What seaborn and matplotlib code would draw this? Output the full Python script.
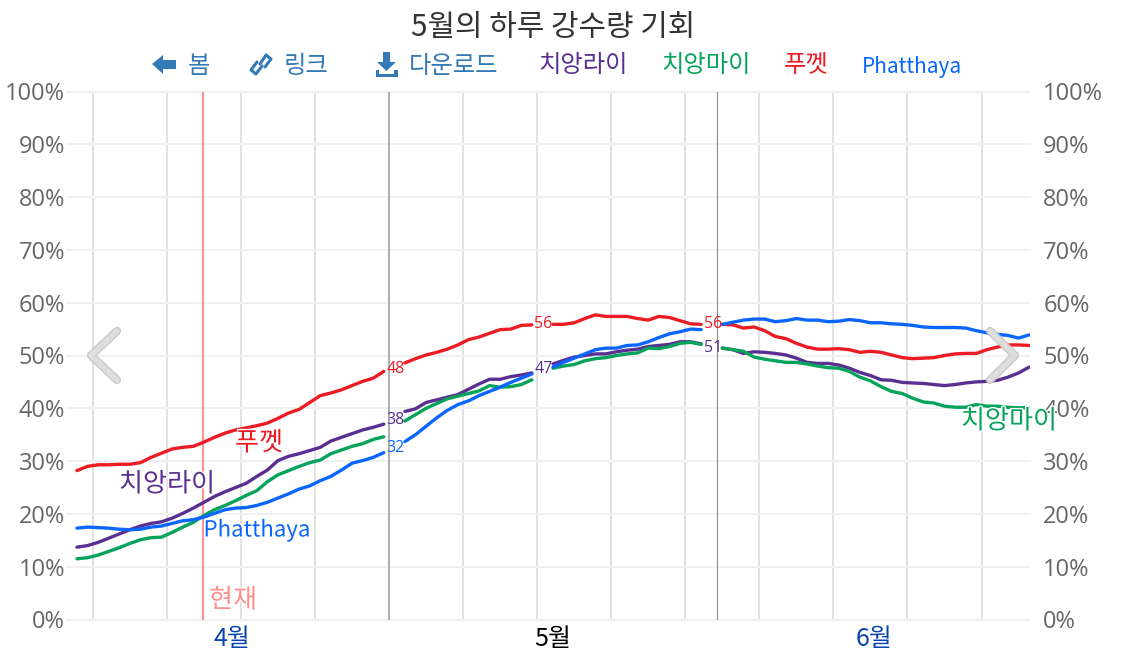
import numpy as np
import pandas as pd
import matplotlib.pyplot as plt
import matplotlib.patheffects as pe
from matplotlib.patches import Polygon
from matplotlib.transforms import Affine2D
import seaborn as sns

KOR = ['Noto Sans CJK KR', 'DejaVu Sans']

# one value per day from 1 April (index 0) to 30 June; None where a label interrupts the line
chiang_rai = [13.7, 14.0, 14.6, 15.4, 16.2, 17.0, 17.7, 18.2, 18.5, 19.2, 20.1, 21.1, 22.2, 23.3, 24.2,
              25.0, 25.8, 27.1, 28.3, 30.1, 30.9, 31.4, 32.0, 32.6, 33.8, 34.5, 35.2, 35.9, 36.4, 37.0,
              None,
              39.4, 39.9, 41.1, 41.6, 42.1, 42.6, 43.6, 44.6, 45.5, 45.5, 46.0, 46.3, 46.7,
              None,
              48.4, 49.1, 49.7, 50.0, 50.3, 50.3, 50.7, 51.0, 51.2, 51.7, 51.9, 52.1, 52.6, 52.6, 52.2,
              None,
              51.4, 51.1, 50.4, 50.7, 50.6, 50.4, 50.1, 49.5, 48.7, 48.5, 48.5, 48.2, 47.6, 46.8, 46.2,
              45.4, 45.3, 44.9, 44.8, 44.7, 44.5, 44.3, 44.5, 44.8, 45.0, 45.1, 45.3, 45.9, 46.7, 47.8]
chiang_mai = [11.5, 11.7, 12.2, 12.9, 13.6, 14.4, 15.1, 15.5, 15.6, 16.5, 17.5, 18.4, 19.7, 20.8, 21.6,
              22.5, 23.5, 24.4, 26.1, 27.4, 28.2, 29.0, 29.7, 30.2, 31.4, 32.1, 32.8, 33.3, 34.1, 34.6,
              None,
              37.6, 38.8, 40.0, 40.9, 41.8, 42.3, 42.8, 43.3, 44.3, 44.0, 44.1, 44.5, 45.4,
              None,
              47.6, 48.0, 48.3, 49.0, 49.4, 49.6, 50.0, 50.3, 50.5, 51.4, 51.3, 51.7, 52.3, 52.5, 52.1,
              None,
              51.4, 51.1, 50.8, 49.7, 49.3, 49.0, 48.7, 48.7, 48.4, 48.0, 47.7, 47.6, 47.0, 45.9, 45.2,
              44.1, 43.2, 42.8, 41.9, 41.2, 41.0, 40.4, 40.2, 40.2, 40.7, 40.4, 40.4, 40.2, 40.1, 40.1]
phuket = [28.2, 29.0, 29.3, 29.3, 29.4, 29.4, 29.7, 30.7, 31.5, 32.3, 32.6, 32.8, 33.6, 34.5, 35.3,
          35.9, 36.3, 36.7, 37.2, 38.1, 39.1, 39.8, 41.1, 42.4, 42.9, 43.5, 44.3, 45.1, 45.7, 47.0,
          None,
          48.6, 49.4, 50.1, 50.6, 51.2, 52.0, 53.0, 53.5, 54.2, 54.9, 55.0, 55.7, 55.8,
          None,
          55.9, 55.9, 56.2, 57.0, 57.7, 57.4, 57.4, 57.4, 57.0, 56.7, 57.4, 57.2, 56.6, 56.0, 55.9,
          None,
          55.9, 55.8, 55.2, 55.4, 54.7, 53.6, 53.2, 52.3, 51.6, 51.2, 51.2, 51.3, 51.1, 50.6, 50.8,
          50.6, 50.1, 49.6, 49.4, 49.5, 49.6, 50.0, 50.3, 50.4, 50.4, 51.1, 51.6, 52.0, 52.0, 51.9]
phatthaya = [17.3, 17.5, 17.4, 17.3, 17.1, 17.0, 17.1, 17.5, 17.7, 18.2, 18.7, 18.9, 19.4, 20.1, 20.8,
             21.1, 21.2, 21.6, 22.2, 23.0, 23.8, 24.7, 25.3, 26.3, 27.1, 28.3, 29.6, 30.1, 30.7, 31.6,
             None,
             33.7, 35.0, 36.6, 38.2, 39.6, 40.7, 41.4, 42.4, 43.2, 44.0, 44.9, 45.7, 46.5,
             None,
             47.8, 48.7, 49.5, 50.3, 51.1, 51.4, 51.4, 51.9, 52.0, 52.6, 53.4, 54.1, 54.5, 55.0, 54.9,
             None,
             55.9, 56.3, 56.7, 56.9, 56.9, 56.4, 56.6, 57.0, 56.7, 56.7, 56.4, 56.5, 56.8, 56.6, 56.2,
             56.2, 56.0, 55.9, 55.7, 55.4, 55.3, 55.3, 55.3, 55.2, 54.7, 54.3, 54.0, 53.8, 53.3, 53.9]

cities = ['치앙라이', '치앙마이', '푸껫', 'Phatthaya']
city_colors = ['#5b2f91', '#06a35a', '#ed1c24', '#0a66ff']
y_ticks = [0, 10, 20, 30, 40, 50, 60, 70, 80, 90, 100]
y_labels = ['0%', '10%', '20%', '30%', '40%', '50%', '60%', '70%', '80%', '90%', '100%']
month_labels = ['4월', '5월', '6월']
month_colors = ['#0645ad', '#000000', '#0645ad']
month_pos = [14.66, 45, 75.3]
# inline labels: day index, value, text, color index
label_days = [30, 30, 30, 44, 44, 60, 60]
label_vals = [47.5, 37.8, 32.5, 56.0, 47.5, 56.0, 51.4]
label_text = ['48', '38', '32', '56', '47', '56', '51']
label_city = [2, 0, 3, 2, 0, 2, 0]

frames = []
for name, vals in zip(cities, [chiang_rai, chiang_mai, phuket, phatthaya]):
    v = pd.Series(vals, dtype=float)
    frames.append(pd.DataFrame({'day': np.arange(len(v)), 'rain': v, 'city': name,
                                'part': v.isna().cumsum()}))
df = pd.concat(frames).dropna()

sns.set_theme(style='white')
plt.rcParams['font.family'] = KOR

W, H = 1135, 652
fig = plt.figure(figsize=(W / 100, H / 100), dpi=100)
ax = fig.add_axes([67 / W, 1 - 619.5 / H, 963 / W, 528 / H])
px = Affine2D().scale(1, -1).translate(0, H)  # overlay items are placed in screen pixels

sns.lineplot(data=df, x='day', y='rain', hue='city', hue_order=cities, palette=city_colors,
             units='part', estimator=None, linewidth=2.4, legend=False, ax=ax, zorder=3,
             solid_joinstyle='round')

ax.set_xlim(-0.94, 90.08)
ax.set_ylim(0, 100)
ax.set_xlabel('')
ax.set_ylabel('')
sns.despine(ax=ax, left=True, bottom=True)

ax.set_xticks(np.arange(1.5, 90, 7))
ax.set_xticklabels([])
ax.tick_params(axis='x', which='major', length=5.8, width=1.1, color='#d8d8d8')
ax.grid(True, axis='x', color='#d8d8d8', linewidth=1.1, zorder=1)
ax.set_xticks(month_pos, minor=True)
ax.set_xticklabels(month_labels, minor=True, fontsize=18)
ax.tick_params(axis='x', which='minor', length=0, pad=5)
for lab, c in zip(ax.get_xticklabels(minor=True), month_colors):
    lab.set_color(c)

ax.set_yticks(y_ticks)
ax.set_yticklabels(y_labels, fontsize=17, color='#666666', family=['Open Sans'])
ax.tick_params(axis='y', length=0, pad=1.5)
ax.grid(True, axis='y', color='#f0f0f0', linewidth=1.5, zorder=1)
for gl in ax.get_ygridlines():
    gl.set_clip_on(False)

ax2 = ax.twinx()
ax2.set_ylim(0, 100)
ax2.set_yticks(y_ticks)
ax2.set_yticklabels(y_labels, fontsize=17, color='#666666', family=['Open Sans'])
ax2.tick_params(axis='y', length=0, pad=9.5)
ax2.grid(False)
sns.despine(ax=ax2, left=True, bottom=True, right=True)

# today and the month boundaries
ax.axvline(11.92, color='#ff8f8f', linewidth=1.4, zorder=2)
ax.axvline(29.5, color='#aaaaaa', linewidth=1.3, zorder=2)
ax.axvline(60.5, color='#888888', linewidth=0.8, zorder=2)

for d, v, t, c in zip(label_days, label_vals, label_text, label_city):
    ax.text(d + 0.1, v, t, color=city_colors[c], fontsize=11.5, ha='center', va='center',
            family=['Open Sans'], zorder=4)

halo = [pe.withStroke(linewidth=2, foreground='white')]
def put(x, y, s, color, size=18.8, ha='center', **kw):
    return fig.text(x, y, s, transform=px, color=color, fontsize=size, ha=ha, va='center',
                    family=KOR, **kw)

put(167, 484, '치앙라이', city_colors[0], zorder=6, path_effects=halo)
put(259, 443, '푸껫', city_colors[2], zorder=6, path_effects=halo)
put(257, 530, 'Phatthaya', city_colors[3], size=16, zorder=6, path_effects=halo)
put(1009, 421, '치앙마이', city_colors[1], zorder=6, path_effects=halo)
put(233, 600, '현재', '#ff8f8f', zorder=6, path_effects=halo)

# header row
put(553, 28, '5월의 하루 강수량 기회', '#333333', size=21.5)
BTN = '#337ab7'
put(199, 66, '봄', BTN, size=17.5)
put(306, 66, '링크', BTN, size=17.5)
put(454, 66, '다운로드', BTN, size=17.5)
put(583, 65, '치앙라이', city_colors[0], size=17.5)
put(706, 65, '치앙마이', city_colors[1], size=17.5)
put(806, 65, '푸껫', city_colors[2], size=17.5)
put(912, 67, 'Phatthaya', city_colors[3], size=15)

# toolbar icons
arrow = [(152, 64), (163, 55), (163, 60), (176, 60), (176, 69), (163, 69), (163, 74)]
fig.add_artist(Polygon(arrow, closed=True, transform=px, color=BTN, lw=0))
load = [(383, 52), (390, 52), (390, 62), (396, 62), (386.5, 71), (377, 62), (383, 62)]
fig.add_artist(Polygon(load, closed=True, transform=px, color=BTN, lw=0))
tray = [(376, 70), (379, 70), (379, 74), (394, 74), (394, 70), (398, 70), (398, 77), (376, 77)]
fig.add_artist(Polygon(tray, closed=True, transform=px, color=BTN, lw=0))
for xs, ys in [([260, 266, 271, 265], [64, 55, 59, 67]), ([262, 256, 251, 257], [66, 74, 70, 62])]:
    fig.add_artist(plt.Line2D(xs, ys, transform=px, color=BTN, lw=2.2, solid_capstyle='round'))

# carousel chevrons
for xs, ys in [([117, 91, 117], [331, 355.5, 380]), ([990, 1015, 990], [331, 355.5, 380])]:
    fig.add_artist(plt.Line2D(xs, ys, transform=px, color='#c4c4c4', lw=6, alpha=0.9,
                              solid_capstyle='round', solid_joinstyle='round', zorder=7))
    fig.add_artist(plt.Line2D(xs, ys, transform=px, color='#dedede', lw=4,
                              solid_capstyle='round', solid_joinstyle='round', zorder=8))

fig.savefig('out.png', dpi=100)
